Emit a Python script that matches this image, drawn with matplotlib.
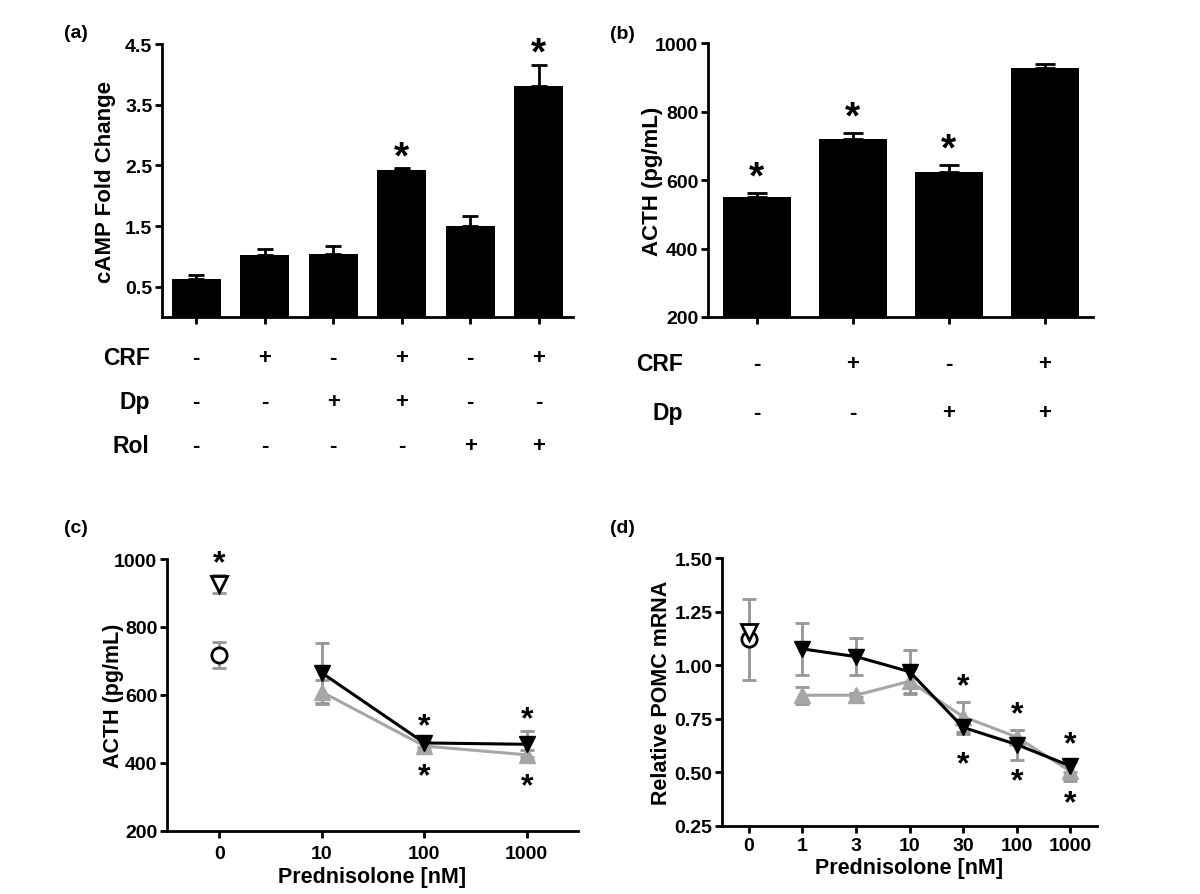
import matplotlib
matplotlib.use("Agg")
import matplotlib.pyplot as plt
import matplotlib.transforms as mtransforms
import numpy as np

plt.rcParams['font.family'] = ['Liberation Sans', 'DejaVu Sans']
plt.rcParams['font.weight'] = 'bold'

# ---------------- data ----------------
# (a) cAMP fold change
a_vals = [0.63, 1.03, 1.04, 2.42, 1.50, 3.80]
a_err = [0.06, 0.09, 0.13, 0.03, 0.17, 0.36]
a_crf = ['-', '+', '-', '+', '-', '+']
a_dp = ['-', '-', '+', '+', '-', '-']
a_rol = ['-', '-', '-', '-', '+', '+']
a_sig = [3, 5]

# (b) ACTH
b_vals = [550, 720, 623, 927]
b_err = [12, 17, 21, 12]
b_crf = ['-', '+', '-', '+']
b_dp = ['-', '-', '+', '+']
b_sig = [0, 1, 2]

# (c) ACTH vs prednisolone
c_ticklabels = ['0', '10', '100', '1000']
c_circle = 718
c_circle_err = 38
c_opentri = 926
c_opentri_err = 26
c_black = [665, 459, 455]
c_black_err = [88, 12, 38]
c_grey = [609, 450, 424]
c_grey_err = [36, 12, 15]
c_sig_above = [0, 2, 3]
c_sig_below = [2, 3]

# (d) POMC mRNA vs prednisolone
d_ticklabels = ['0', '1', '3', '10', '30', '100', '1000']
d_circle = 1.12
d_circle_err = 0.19
d_opentri = 1.155
d_opentri_err = 0.02
d_black = [1.076, 1.04, 0.97, 0.71, 0.63, 0.53]
d_black_err = [0.12, 0.085, 0.10, 0.03, 0.07, 0.03]
d_grey = [0.86, 0.86, 0.925, 0.76, 0.665, 0.505]
d_grey_err = [0.04, 0.01, 0.06, 0.07, 0.035, 0.045]
d_sig_above = [4, 5, 6]
d_sig_below = [4, 5, 6]

GREY = '#a6a6a6'
EGREY = '#969696'
SPINE_W = 2.0
TICK_FS = 14
LABEL_FS = 15.5

fig = plt.figure(figsize=(12, 8.95), dpi=100)


def style(ax):
    for s in ['top', 'right']:
        ax.spines[s].set_visible(False)
    for s in ['left', 'bottom']:
        ax.spines[s].set_linewidth(SPINE_W)
    ax.tick_params(axis='both', width=SPINE_W, length=5, labelsize=TICK_FS, pad=2)
    for lab in ax.get_xticklabels() + ax.get_yticklabels():
        lab.set_fontweight('bold')


def star(ax, x, y, dy_pt, size):
    ax.annotate('*', xy=(x, y), xytext=(0, dy_pt), textcoords='offset points',
                ha='center', va='center', fontsize=size, fontweight='bold',
                annotation_clip=False)


# ---------------- (a) ----------------
axa = fig.add_axes([0.135, 0.6447, 0.3425, 0.305])
xa = np.arange(len(a_vals))
axa.bar(xa, a_vals, width=0.71, color='black', zorder=2)
axa.errorbar(xa, a_vals, yerr=[np.zeros(len(a_err)), a_err], fmt='none',
             ecolor='black', elinewidth=2, capsize=6, capthick=2, zorder=1)
axa.set_xlim(-0.5, 5.5)
axa.set_ylim(0, 4.5)
axa.set_yticks([0.5, 1.5, 2.5, 3.5, 4.5])
axa.set_xticks(xa)
axa.set_xticklabels([])
style(axa)
axa.set_ylabel('cAMP Fold Change', fontsize=16, fontweight='bold')
axa.yaxis.set_label_coords(-0.112, 0.5)
for i in a_sig:
    star(axa, xa[i], a_vals[i] + a_err[i], 8, 28)
tra = mtransforms.blended_transform_factory(axa.transData, axa.transAxes)
rows_a = [('CRF', a_crf, -0.147), ('Dp', a_dp, -0.311), ('Rol', a_rol, -0.4725)]
for name, signs, yy in rows_a:
    axa.text(-0.03, yy, name, transform=axa.transAxes, ha='right', va='center',
             fontsize=16.5, fontweight='bold')
    for i, s in enumerate(signs):
        axa.text(xa[i], yy, s, transform=tra, ha='center', va='center',
                 fontsize=16, fontweight='bold')
fig.text(0.0635, 0.963, '(a)', fontsize=14, fontweight='bold', ha='center', va='center')

# ---------------- (b) ----------------
axb = fig.add_axes([0.59, 0.6447, 0.3208, 0.3061])
xb = np.arange(len(b_vals))
axb.bar(xb, b_vals, width=0.70, color='black', zorder=2)
axb.errorbar(xb, b_vals, yerr=[np.zeros(len(b_err)), b_err], fmt='none',
             ecolor='black', elinewidth=2, capsize=7, capthick=2, zorder=1)
axb.set_xlim(-0.51, 3.5)
axb.set_ylim(200, 1000)
axb.set_yticks([200, 400, 600, 800, 1000])
axb.set_xticks(xb)
axb.set_xticklabels([])
style(axb)
axb.set_ylabel('ACTH (pg/mL)', fontsize=16, fontweight='bold')
axb.yaxis.set_label_coords(-0.117, 0.5)
for i in b_sig:
    star(axb, xb[i], b_vals[i] + b_err[i], 11, 28)
trb = mtransforms.blended_transform_factory(axb.transData, axb.transAxes)
rows_b = [('CRF', b_crf, -0.1715), ('Dp', b_dp, -0.347)]
for name, signs, yy in rows_b:
    axb.text(-0.065, yy, name, transform=axb.transAxes, ha='right', va='center',
             fontsize=16.5, fontweight='bold')
    for i, s in enumerate(signs):
        axb.text(xb[i], yy, s, transform=trb, ha='center', va='center',
                 fontsize=16, fontweight='bold')
fig.text(0.519, 0.961, '(b)', fontsize=14, fontweight='bold', ha='center', va='center')

# ---------------- (c) ----------------
axc = fig.add_axes([0.1392, 0.0704, 0.3425, 0.3039])
xc = np.arange(1, len(c_black) + 1)
axc.errorbar([0], [c_circle], yerr=[c_circle_err], fmt='none', ecolor=EGREY,
             elinewidth=2, capsize=5, capthick=2, zorder=1)
axc.errorbar([0], [c_opentri], yerr=[c_opentri_err], fmt='none', ecolor=EGREY,
             elinewidth=2, capsize=5, capthick=2, zorder=1)
axc.errorbar(xc, c_grey, yerr=c_grey_err, fmt='none', ecolor=EGREY,
             elinewidth=2, capsize=5, capthick=2, zorder=1)
axc.errorbar(xc, c_black, yerr=c_black_err, fmt='none', ecolor=EGREY,
             elinewidth=2, capsize=5, capthick=2, zorder=1)
axc.plot(xc, c_grey, color=GREY, lw=2.2, marker='^', ms=11, mfc=GREY, mec=GREY, zorder=3)
axc.plot(xc, c_black, color='black', lw=2.2, marker='v', ms=11, mfc='black', mec='black', zorder=4)
axc.plot([0], [c_circle], marker='o', ms=11, mfc='white', mec='black', mew=2, ls='none', zorder=5)
axc.plot([0], [c_opentri], marker='v', ms=11, mfc='white', mec='black', mew=2, ls='none', zorder=5)
axc.set_xlim(-0.51, 3.5)
axc.set_ylim(200, 1000)
axc.set_yticks([200, 400, 600, 800, 1000])
axc.set_xticks(range(len(c_ticklabels)))
axc.set_xticklabels(c_ticklabels)
style(axc)
axc.tick_params(axis='x', pad=5)
axc.set_ylabel('ACTH (pg/mL)', fontsize=LABEL_FS, fontweight='bold')
axc.yaxis.set_label_coords(-0.105, 0.5)
axc.set_xlabel('Prednisolone [nM]', fontsize=LABEL_FS, fontweight='bold', labelpad=3)
c_allx = [0] + list(xc)
c_top = [c_opentri + c_opentri_err] + [max(b + be, g + ge) for b, be, g, ge in zip(c_black, c_black_err, c_grey, c_grey_err)]
c_bot = [c_circle - c_circle_err] + [min(b - be, g - ge) for b, be, g, ge in zip(c_black, c_black_err, c_grey, c_grey_err)]
for i in c_sig_above:
    star(axc, c_allx[i], c_top[i], 9, 23)
for i in c_sig_below:
    star(axc, c_allx[i], c_bot[i], -19, 23)
fig.text(0.0635, 0.41, '(c)', fontsize=14, fontweight='bold', ha='center', va='center')

# ---------------- (d) ----------------
axd = fig.add_axes([0.6017, 0.076, 0.3125, 0.2994])
xd = np.arange(1, len(d_black) + 1)
axd.errorbar([0], [d_circle], yerr=[d_circle_err], fmt='none', ecolor=EGREY,
             elinewidth=2, capsize=5, capthick=2, zorder=1)
axd.errorbar([0], [d_opentri], yerr=[d_opentri_err], fmt='none', ecolor=EGREY,
             elinewidth=2, capsize=5, capthick=2, zorder=1)
axd.errorbar(xd, d_grey, yerr=d_grey_err, fmt='none', ecolor=EGREY,
             elinewidth=2, capsize=5, capthick=2, zorder=1)
axd.errorbar(xd, d_black, yerr=d_black_err, fmt='none', ecolor=EGREY,
             elinewidth=2, capsize=5, capthick=2, zorder=1)
axd.plot(xd, d_grey, color=GREY, lw=2.2, marker='^', ms=11, mfc=GREY, mec=GREY, zorder=3)
axd.plot(xd, d_black, color='black', lw=2.2, marker='v', ms=11, mfc='black', mec='black', zorder=4)
axd.plot([0], [d_circle], marker='o', ms=11, mfc='white', mec='black', mew=2, ls='none', zorder=5)
axd.plot([0], [d_opentri], marker='v', ms=11, mfc='white', mec='black', mew=2, ls='none', zorder=5)
axd.set_xlim(-0.5, 6.5)
axd.set_ylim(0.25, 1.5)
axd.set_yticks([0.25, 0.50, 0.75, 1.00, 1.25, 1.50])
axd.set_yticklabels(['0.25', '0.50', '0.75', '1.00', '1.25', '1.50'])
axd.set_xticks(range(len(d_ticklabels)))
axd.set_xticklabels(d_ticklabels)
style(axd)
axd.tick_params(axis='x', pad=3)
axd.set_ylabel('Relative POMC mRNA', fontsize=LABEL_FS, fontweight='bold')
axd.yaxis.set_label_coords(-0.133, 0.5)
axd.set_xlabel('Prednisolone [nM]', fontsize=LABEL_FS, fontweight='bold', labelpad=2)
d_top = [max(b + be, g + ge) for b, be, g, ge in zip(d_black, d_black_err, d_grey, d_grey_err)]
d_bot = [min(b - be, g - ge) for b, be, g, ge in zip(d_black, d_black_err, d_grey, d_grey_err)]
d_below_off = {4: -22, 5: -16, 6: -16}
for i in d_sig_above:
    star(axd, i, d_top[i - 1], 11, 23)
for i in d_sig_below:
    star(axd, i, d_bot[i - 1], d_below_off[i], 23)
fig.text(0.519, 0.41, '(d)', fontsize=14, fontweight='bold', ha='center', va='center')

fig.savefig('out.png', dpi=100)
